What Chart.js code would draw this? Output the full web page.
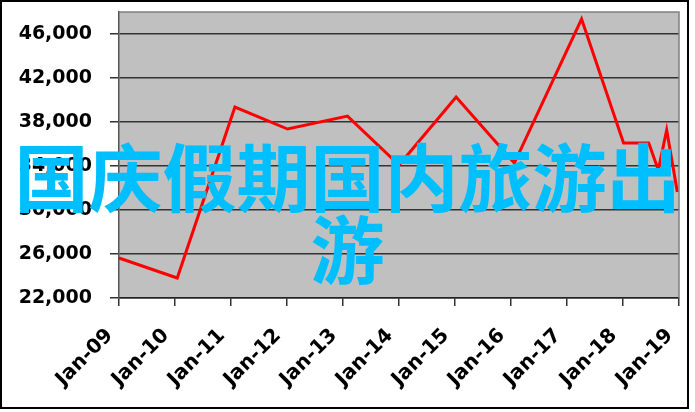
<!DOCTYPE html>
<html>
<head>
<meta charset="utf-8">
<script src="https://cdn.jsdelivr.net/npm/chart.js@4"></script>
<style>
  body { margin: 0; background: #fff; }
  #wrap { position: relative; width: 695px; height: 412px; overflow: hidden; }
  #myChart { position: absolute; left: 0; top: 0; }
  #frame { position: absolute; left: 0; top: 0; width: 685px; height: 405px; border: 2px solid #000; pointer-events: none; }
  #title { position: absolute; left: 0; top: 138px; width: 695px; text-align: center;
           font-family: "Noto Sans CJK SC"; font-weight: bold; font-size: 74px; line-height: 72px;
           color: #00bfff; pointer-events: none; }
</style>
</head>
<body>
<div id="wrap">
  <canvas id="myChart" width="695" height="412"></canvas>
  <div id="frame"></div>
  <div id="title">国庆假期国内旅游出游</div>
</div>
<script>
// eje X: etiquetas de los ticks (un tick por año)
var categories = ['Jan-09', 'Jan-10', 'Jan-11', 'Jan-12', 'Jan-13', 'Jan-14',
                  'Jan-15', 'Jan-16', 'Jan-17', 'Jan-18', 'Jan-19']
// posicion de cada punto en años desde Jan-09
var pointYears = [0, 1.04, 2.07, 3.01, 4.08, 5.0, 6.02, 7.06, 8.26, 9.01, 9.46, 9.63, 9.78, 9.97]
// eje Y
var values = [25640, 23820, 39360, 37360, 38540, 34090, 40270, 34270, 47360, 36090, 36090, 33640, 37270, 31640]
var yTicks = [22000, 26000, 30000, 34000, 38000, 42000, 46000]

var points = []
for (let i = 0; i < values.length; i++) {
  points.push({x: pointYears[i], y: values[i]})
}

// fondo gris del area y borde de arriba/derecha
var plotBack = {
  id: 'plotBack',
  beforeDraw: function(chart) {
    var a = chart.chartArea
    var c = chart.ctx
    c.save()
    c.fillStyle = '#c0c0c0'
    c.fillRect(a.left, a.top, a.right - a.left, a.bottom - a.top)
    c.restore()
  },
  afterDatasetsDraw: function(chart) {
    var a = chart.chartArea
    var c = chart.ctx
    c.save()
    c.strokeStyle = '#808080'
    c.lineWidth = 1.5
    c.beginPath()
    c.moveTo(a.left, a.top)
    c.lineTo(a.right, a.top)
    c.lineTo(a.right, a.bottom)
    c.stroke()
    c.restore()
  }
}

var ctx = document.getElementById('myChart').getContext('2d');
var myChart = new Chart(ctx, {
  type: 'line',
  data: {
    datasets: [{
      data: points,
      borderColor: '#ff0000',
      borderWidth: 3,
      pointRadius: 0,
      tension: 0,
      clip: false
    }]
  },
  options: {
    responsive: false,
    animation: false,
    devicePixelRatio: 1,
    layout: {padding: {left: 0, right: 16, top: 12, bottom: 0}},
    plugins: {legend: {display: false}, tooltip: {enabled: false}},
    scales: {
      x: {
        type: 'linear',
        min: 0,
        max: categories.length - 1,
        afterBuildTicks: function(scale) {
          scale.ticks = categories.map(function(c, i) { return {value: i} })
        },
        afterFit: function(scale) {
          scale.height = 114
          scale.paddingLeft = 0
          scale.paddingRight = 0
        },
        ticks: {
          autoSkip: false,
          minRotation: 45,
          maxRotation: 45,
          padding: 18,
          labelOffset: -9,
          color: '#000',
          font: {family: 'DejaVu Sans', weight: 'bold', size: 20},
          callback: function(v) { return categories[v] }
        },
        grid: {drawOnChartArea: false, tickLength: 8, color: '#333', lineWidth: 1.5},
        border: {color: '#222', width: 1.5}
      },
      y: {
        min: 22000,
        max: 48000,
        afterBuildTicks: function(scale) {
          scale.ticks = yTicks.map(function(v) { return {value: v} })
        },
        afterFit: function(scale) {
          scale.width = 119
          scale.paddingTop = 0
          scale.paddingBottom = 0
        },
        ticks: {
          padding: 18,
          color: '#000',
          font: {family: 'DejaVu Sans', weight: 'bold', size: 19},
          callback: function(v) { return v.toLocaleString('en-US') }
        },
        grid: {tickLength: 9, color: '#333', lineWidth: 1.5},
        border: {color: '#555', width: 1.5}
      }
    }
  },
  plugins: [plotBack]
});
</script>
</body>
</html>
